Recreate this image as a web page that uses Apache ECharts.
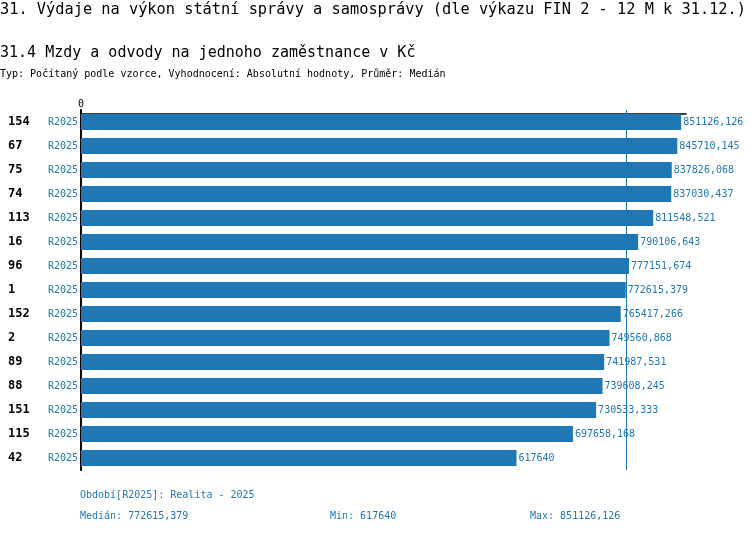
<!DOCTYPE html>
<html><head><meta charset="utf-8">
<script src="https://cdn.jsdelivr.net/npm/echarts@6/dist/echarts.min.js"></script>
<style>html,body{margin:0;padding:0;background:#fff}#c{width:750px;height:534px}</style>
</head><body><div id="c"></div>
<script>
const categories = ['154','67','75','74','113','16','96','1','152','2','89','88','151','115','42'];
const periods = ['R2025','R2025','R2025','R2025','R2025','R2025','R2025','R2025','R2025','R2025','R2025','R2025','R2025','R2025','R2025'];
const values = [851126.126,845710.145,837826.068,837030.437,811548.521,790106.643,777151.674,772615.379,765417.266,749560.868,741987.531,739608.245,730533.333,697658.168,617640];
const median = 772615.379;
const minVal = 617640;
const maxVal = 851126.126;
const axisMax = 858000;

const blue = '#1f77b4';
const mono = '"DejaVu Sans Mono", monospace';
const fmt = v => String(v).replace('.', ',');

const chart = echarts.init(document.getElementById('c'), null, {renderer:'canvas'});
chart.setOption({
  animation:false,
  backgroundColor:'#fff',
  title:[
    {text:'31. Výdaje na výkon státní správy a samosprávy (dle výkazu FIN 2 - 12 M k 31.12.)', left:-5, top:-2, textStyle:{fontFamily:mono, fontSize:15.3, fontWeight:'normal', color:'#000'}},
    {text:'31.4 Mzdy a odvody na jednoho zaměstnance v Kč', left:-5, top:41, textStyle:{fontFamily:mono, fontSize:15, fontWeight:'normal', color:'#000'}},
    {text:'Typ: Počítaný podle vzorce, Vyhodnocení: Absolutní hodnoty, Průměr: Medián', left:-5, top:64, textStyle:{fontFamily:mono, fontSize:10, fontWeight:'normal', color:'#000'}},
    {text:'Období[R2025]: Realita - 2025', left:75, top:485, textStyle:{fontFamily:mono, fontSize:10, fontWeight:'normal', color:blue}},
    {text:'Medián: ' + fmt(median), left:75, top:506, textStyle:{fontFamily:mono, fontSize:10, fontWeight:'normal', color:blue}},
    {text:'Min: ' + fmt(minVal), left:325, top:506, textStyle:{fontFamily:mono, fontSize:10, fontWeight:'normal', color:blue}},
    {text:'Max: ' + fmt(maxVal), left:525, top:506, textStyle:{fontFamily:mono, fontSize:10, fontWeight:'normal', color:blue}}
  ],
  grid:{left:81, top:110, width:605, height:360, containLabel:false},
  xAxis:{
    type:'value', position:'top', min:0, max:axisMax, offset:-4,
    splitLine:{show:false},
    axisLine:{show:true, lineStyle:{color:'#000', width:1.5}},
    axisTick:{show:true, length:4, customValues:[0], lineStyle:{color:'#000'}},
    axisLabel:{show:true, customValues:[0], margin:5, fontFamily:mono, fontSize:10, color:'#000'}
  },
  yAxis:{
    type:'category', inverse:true, data:categories,
    axisLine:{show:true, lineStyle:{color:'#000', width:2}},
    axisTick:{show:false},
    axisLabel:{
      margin:3,
      formatter:(v, i) => '{a|' + v + '}{b|' + periods[i] + '}',
      rich:{
        a:{width:38, align:'left', fontFamily:mono, fontSize:12, fontWeight:'bold', color:'#000'},
        b:{width:32, align:'right', fontFamily:mono, fontSize:10, color:blue}
      }
    }
  },
  series:[{
    type:'bar', data:values, barWidth:16,
    itemStyle:{color:blue},
    label:{show:true, position:'right', distance:2, fontFamily:mono, fontSize:10, color:blue, formatter:p => fmt(p.value)},
    markLine:{
      silent:true, symbol:'none', label:{show:false},
      lineStyle:{color:blue, type:'solid', width:1},
      data:[{xAxis:median}]
    }
  }]
});
</script></body></html>
